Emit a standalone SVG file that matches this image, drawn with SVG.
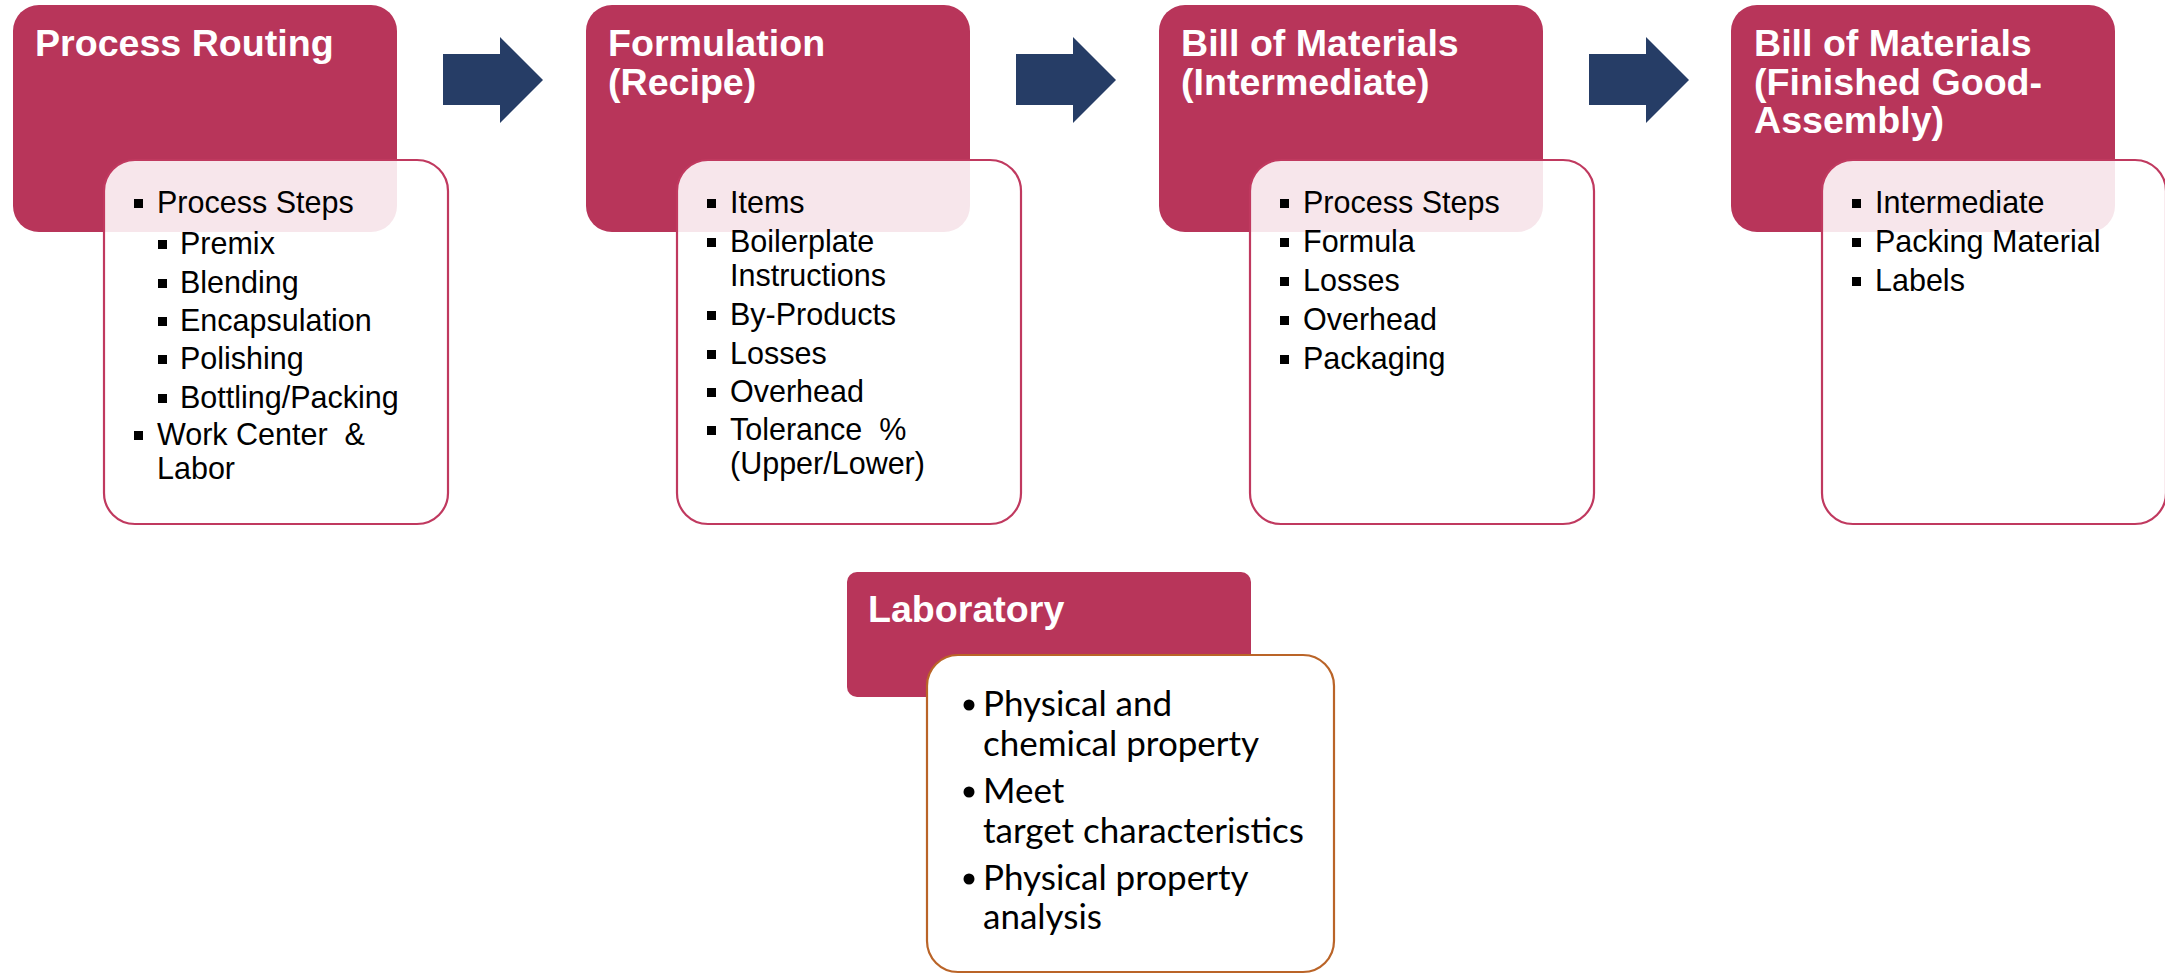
<svg xmlns="http://www.w3.org/2000/svg" width="2165" height="975" viewBox="0 0 2165 975">
<defs>
<style>
.hdr{fill:#B8355A;}
.card{fill:#FFFFFF;fill-opacity:0.88;stroke:#C0395F;stroke-width:2.2;}
.labcard{fill:#FFFFFF;stroke:#BA6428;stroke-width:2.2;}
.title{font-family:"Liberation Sans",Arial,sans-serif;font-weight:bold;font-size:37.6px;fill:#FFFFFF;}
.item{font-family:"Liberation Sans",Arial,sans-serif;font-size:30.5px;fill:#000000;}
.lab{font-family:Lato,"Liberation Sans",sans-serif;font-size:35px;fill:#000000;}
.sq{fill:#000000;}
.arrow{fill:#263D66;}
</style>
</defs>
<rect width="2165" height="975" fill="#FFFFFF"/>

<g id="connectors">
<polygon class="arrow" points="443,54 500,54 500,37 543,80 500,123 500,105 443,105"/>
<polygon class="arrow" points="1016,54 1073,54 1073,37 1116,80 1073,123 1073,105 1016,105"/>
<polygon class="arrow" points="1589,54 1646,54 1646,37 1689,80 1646,123 1646,105 1589,105"/>
</g>

<g id="process-routing">
<rect class="hdr" x="13" y="5" width="384" height="227" rx="26"/>
<rect class="card" x="104" y="160" width="344" height="364" rx="31"/>
<text class="title" x="35" y="56">Process Routing</text>
<rect class="sq" x="134" y="199" width="9" height="9"/>
<text class="item" x="157" y="213">Process Steps</text>
<rect class="sq" x="158" y="240" width="9" height="9"/>
<text class="item" x="180" y="254">Premix</text>
<rect class="sq" x="158" y="279" width="9" height="9"/>
<text class="item" x="180" y="293">Blending</text>
<rect class="sq" x="158" y="317" width="9" height="9"/>
<text class="item" x="180" y="331">Encapsulation</text>
<rect class="sq" x="158" y="355" width="9" height="9"/>
<text class="item" x="180" y="369">Polishing</text>
<rect class="sq" x="158" y="394" width="9" height="9"/>
<text class="item" x="180" y="408">Bottling/Packing</text>
<rect class="sq" x="134" y="431" width="9" height="9"/>
<text class="item" x="157" y="445" xml:space="preserve">Work Center  &amp;</text>
<text class="item" x="157" y="479">Labor</text>
</g>

<g id="formulation">
<rect class="hdr" x="586" y="5" width="384" height="227" rx="26"/>
<rect class="card" x="677" y="160" width="344" height="364" rx="31"/>
<text class="title" x="608" y="56">Formulation</text>
<text class="title" x="608" y="94.5">(Recipe)</text>
<rect class="sq" x="707" y="199" width="9" height="9"/>
<text class="item" x="730" y="213">Items</text>
<rect class="sq" x="707" y="238" width="9" height="9"/>
<text class="item" x="730" y="252">Boilerplate</text>
<text class="item" x="730" y="286">Instructions</text>
<rect class="sq" x="707" y="311" width="9" height="9"/>
<text class="item" x="730" y="325">By-Products</text>
<rect class="sq" x="707" y="350" width="9" height="9"/>
<text class="item" x="730" y="364">Losses</text>
<rect class="sq" x="707" y="388" width="9" height="9"/>
<text class="item" x="730" y="402">Overhead</text>
<rect class="sq" x="707" y="426" width="9" height="9"/>
<text class="item" x="730" y="440" xml:space="preserve">Tolerance  %</text>
<text class="item" x="730" y="474">(Upper/Lower)</text>
</g>

<g id="bom-intermediate">
<rect class="hdr" x="1159" y="5" width="384" height="227" rx="26"/>
<rect class="card" x="1250" y="160" width="344" height="364" rx="31"/>
<text class="title" x="1181" y="56">Bill of Materials</text>
<text class="title" x="1181" y="94.5">(Intermediate)</text>
<rect class="sq" x="1280" y="199" width="9" height="9"/>
<text class="item" x="1303" y="213">Process Steps</text>
<rect class="sq" x="1280" y="238" width="9" height="9"/>
<text class="item" x="1303" y="252">Formula</text>
<rect class="sq" x="1280" y="277" width="9" height="9"/>
<text class="item" x="1303" y="291">Losses</text>
<rect class="sq" x="1280" y="316" width="9" height="9"/>
<text class="item" x="1303" y="330">Overhead</text>
<rect class="sq" x="1280" y="355" width="9" height="9"/>
<text class="item" x="1303" y="369">Packaging</text>
</g>

<g id="bom-finished">
<rect class="hdr" x="1731" y="5" width="384" height="227" rx="26"/>
<rect class="card" x="1822" y="160" width="344" height="364" rx="31"/>
<text class="title" x="1754" y="56">Bill of Materials</text>
<text class="title" x="1754" y="94.5">(Finished Good-</text>
<text class="title" x="1754" y="133">Assembly)</text>
<rect class="sq" x="1852" y="199" width="9" height="9"/>
<text class="item" x="1875" y="213">Intermediate</text>
<rect class="sq" x="1852" y="238" width="9" height="9"/>
<text class="item" x="1875" y="252">Packing Material</text>
<rect class="sq" x="1852" y="277" width="9" height="9"/>
<text class="item" x="1875" y="291">Labels</text>
</g>

<g id="laboratory">
<rect class="hdr" x="847" y="572" width="404" height="125" rx="10"/>
<rect class="labcard" x="927" y="655" width="407" height="317" rx="31"/>
<text class="title" x="868" y="622">Laboratory</text>
<circle class="sq" cx="969" cy="705" r="5.5"/>
<text class="lab" x="983" y="716">Physical and</text>
<text class="lab" x="983" y="756">chemical property</text>
<circle class="sq" cx="969" cy="792" r="5.5"/>
<text class="lab" x="983" y="803">Meet</text>
<text class="lab" x="983" y="843">target characteristics</text>
<circle class="sq" cx="969" cy="879" r="5.5"/>
<text class="lab" x="983" y="890">Physical property</text>
<text class="lab" x="983" y="929">analysis</text>
</g>
</svg>
